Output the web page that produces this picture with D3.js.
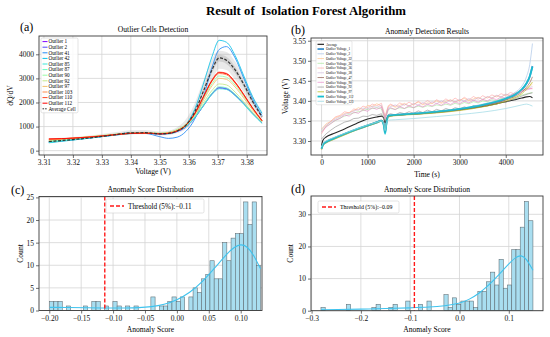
<!DOCTYPE html>
<html>
<head>
<meta charset="utf-8">
<script src="https://cdn.jsdelivr.net/npm/d3@7"></script>
<style>
  body { margin: 0; background: #fff; }
  svg { display: block; font-family: "Liberation Serif", "Times New Roman", serif; }
</style>
</head>
<body>
<svg id="fig" width="550" height="337"></svg>
<script>
// ---------------- data: (a) dQ/dV curves ----------------
const voltage = [3.3117, 3.316, 3.320, 3.325, 3.330, 3.335, 3.340, 3.345, 3.350, 3.353, 3.356,
                 3.359, 3.362, 3.365, 3.368, 3.3705, 3.373, 3.376, 3.379, 3.382, 3.3853];
const avgCell  = [380, 420, 460, 520, 590, 670, 740, 745, 700, 720, 820, 1050, 1600, 2450, 3350, 3850, 3750, 3350, 2750, 2050, 1400];
const bandLow  = [300, 360, 420, 490, 560, 630, 670, 680, 640, 650, 730, 900, 1350, 2050, 2900, 3400, 3350, 2950, 2400, 1800, 1250];
const bandHigh = [520, 540, 570, 620, 690, 770, 850, 860, 800, 830, 970, 1300, 1950, 2900, 3800, 4150, 4100, 3700, 3050, 2300, 1650];
const coreLow  = [350, 400, 445, 505, 575, 650, 710, 715, 675, 695, 790, 1000, 1520, 2330, 3220, 3700, 3600, 3200, 2620, 1960, 1340];
const coreHigh = [420, 455, 495, 555, 625, 700, 780, 785, 740, 760, 870, 1130, 1700, 2600, 3520, 3980, 3900, 3480, 2860, 2130, 1470];

const outlierNames = ["Outlier 1", "Outlier 2", "Outlier 41", "Outlier 42", "Outlier 85", "Outlier 87",
                      "Outlier 90", "Outlier 92", "Outlier 97", "Outlier 103", "Outlier 110", "Outlier 112"];
const outlierColors = ["#8000ff", "#5148fc", "#238af5", "#0cc1e8", "#3ae8d7", "#68fcc1",
                       "#97fca7", "#c5e88a", "#f3c16a", "#ff8a48", "#ff4824", "#ff0000"];
const outlierCurves = [
  [360, 410, 460, 520, 590, 660, 720, 730, 700, 720, 800, 980, 1350, 1850, 2350, 2600, 2560, 2300, 1950, 1550, 1150],
  [350, 405, 455, 515, 585, 655, 715, 725, 695, 715, 795, 990, 1370, 1870, 2370, 2620, 2580, 2320, 1960, 1560, 1160],
  [380, 430, 470, 530, 600, 680, 740, 720, 580, 510, 560, 800, 1300, 2200, 3450, 4200, 4320, 3850, 3000, 2150, 1450],
  [330, 390, 440, 510, 590, 670, 730, 735, 690, 700, 800, 1080, 1700, 2750, 3900, 4580, 4500, 3950, 3100, 2250, 1550],
  [340, 400, 450, 510, 580, 650, 710, 720, 700, 730, 810, 990, 1360, 1850, 2330, 2570, 2540, 2280, 1920, 1520, 1130],
  [370, 430, 480, 540, 600, 660, 710, 720, 710, 740, 830, 1010, 1390, 1890, 2390, 2650, 2610, 2340, 1970, 1560, 1170],
  [400, 450, 500, 560, 620, 680, 720, 730, 720, 760, 880, 1100, 1520, 2150, 2780, 3100, 3050, 2720, 2250, 1730, 1250],
  [420, 470, 520, 575, 630, 690, 730, 735, 720, 755, 860, 1050, 1440, 1980, 2500, 2770, 2730, 2430, 2030, 1600, 1190],
  [440, 480, 520, 570, 620, 680, 730, 735, 715, 750, 860, 1080, 1490, 2090, 2690, 3000, 2960, 2640, 2180, 1690, 1220],
  [460, 490, 520, 560, 610, 670, 720, 730, 710, 730, 830, 1070, 1520, 2200, 2880, 3200, 3150, 2800, 2300, 1760, 1240],
  [480, 495, 520, 560, 610, 670, 720, 730, 700, 720, 820, 1060, 1530, 2230, 2930, 3260, 3210, 2850, 2330, 1780, 1250],
  [490, 500, 520, 555, 605, 665, 715, 725, 695, 715, 815, 1050, 1520, 2220, 2910, 3240, 3190, 2830, 2320, 1770, 1240]
];

// ---------------- data: (b) voltage vs time ----------------
const timeSmooth = [0, 30, 100, 250, 500, 750, 1000, 1200, 1300, 1350, 1380, 1410, 1450, 1600, 2000,
                    2500, 3000, 3500, 4000, 4200, 4350, 4450, 4520, 4580];
const timeNoisy = [0, 100, 200, 300, 400, 500, 600, 700, 800, 900, 1000, 1100, 1200, 1300, 1380, 1450,
                   1500, 1600, 1700, 1800, 1900, 2000, 2100, 2200, 2300, 2400, 2500, 2600, 2700, 2800, 2900,
                   3000, 3100, 3200, 3300, 3400, 3500, 3600, 3700, 3800, 3900, 4000, 4100, 4200, 4300, 4400,
                   4500, 4580];

const vAverage = [3.288, 3.302, 3.310, 3.318, 3.330, 3.343, 3.355, 3.360, 3.362, 3.358, 3.345, 3.355, 3.362, 3.364, 3.367, 3.372, 3.378, 3.386, 3.398, 3.403, 3.407, 3.410, 3.411, 3.408];
const v1   = [3.280, 3.290, 3.297, 3.305, 3.317, 3.328, 3.338, 3.346, 3.350, 3.342, 3.322, 3.345, 3.363, 3.365, 3.368, 3.372, 3.379, 3.389, 3.405, 3.415, 3.428, 3.443, 3.460, 3.487];
const v2   = [3.282, 3.291, 3.298, 3.306, 3.318, 3.329, 3.339, 3.347, 3.351, 3.343, 3.324, 3.346, 3.364, 3.366, 3.369, 3.374, 3.381, 3.392, 3.409, 3.421, 3.437, 3.460, 3.490, 3.543];
const v47  = [3.283, 3.292, 3.299, 3.307, 3.318, 3.329, 3.340, 3.348, 3.352, 3.345, 3.328, 3.347, 3.362, 3.364, 3.367, 3.371, 3.377, 3.387, 3.402, 3.411, 3.422, 3.434, 3.445, 3.460];
const v97  = [3.278, 3.288, 3.295, 3.303, 3.315, 3.327, 3.337, 3.345, 3.349, 3.341, 3.323, 3.344, 3.360, 3.363, 3.366, 3.370, 3.376, 3.385, 3.399, 3.408, 3.418, 3.429, 3.438, 3.447];
const v112 = [3.281, 3.291, 3.298, 3.306, 3.318, 3.329, 3.339, 3.347, 3.351, 3.340, 3.318, 3.344, 3.363, 3.365, 3.368, 3.373, 3.380, 3.390, 3.406, 3.416, 3.429, 3.444, 3.461, 3.485];
const v123 = [3.285, 3.294, 3.300, 3.308, 3.319, 3.330, 3.340, 3.347, 3.350, 3.343, 3.326, 3.345, 3.352, 3.353, 3.356, 3.361, 3.366, 3.372, 3.381, 3.386, 3.390, 3.392, 3.390, 3.387];

const v22 = [3.330, 3.343, 3.349, 3.358, 3.362, 3.369, 3.371, 3.376, 3.383, 3.378, 3.389, 3.386, 3.393, 3.387, 3.360, 3.386,
             3.390, 3.384, 3.389, 3.394, 3.387, 3.392, 3.397, 3.390, 3.395, 3.393, 3.400, 3.394, 3.399, 3.403, 3.397,
             3.402, 3.406, 3.400, 3.405, 3.409, 3.403, 3.410, 3.407, 3.413, 3.409, 3.416, 3.412, 3.418, 3.422, 3.428, 3.434, 3.442];
const v26 = [3.325, 3.336, 3.344, 3.351, 3.357, 3.362, 3.366, 3.370, 3.373, 3.376, 3.379, 3.381, 3.383, 3.380, 3.352, 3.378,
             3.381, 3.379, 3.383, 3.381, 3.385, 3.383, 3.387, 3.384, 3.388, 3.386, 3.390, 3.388, 3.392, 3.389, 3.394,
             3.391, 3.396, 3.393, 3.398, 3.395, 3.400, 3.398, 3.403, 3.400, 3.406, 3.403, 3.409, 3.407, 3.413, 3.416, 3.419, 3.421];
const v36 = [3.318, 3.338, 3.349, 3.360, 3.364, 3.373, 3.370, 3.380, 3.377, 3.387, 3.383, 3.392, 3.388, 3.394, 3.362, 3.388,
             3.392, 3.386, 3.395, 3.389, 3.397, 3.390, 3.399, 3.392, 3.401, 3.394, 3.403, 3.396, 3.405, 3.398, 3.407,
             3.400, 3.409, 3.402, 3.411, 3.404, 3.413, 3.407, 3.415, 3.410, 3.418, 3.413, 3.421, 3.417, 3.424, 3.428, 3.431, 3.430];
const v38 = [3.328, 3.340, 3.347, 3.355, 3.360, 3.367, 3.369, 3.375, 3.378, 3.382, 3.380, 3.387, 3.384, 3.389, 3.358, 3.383,
             3.386, 3.390, 3.385, 3.392, 3.387, 3.394, 3.389, 3.396, 3.391, 3.398, 3.393, 3.400, 3.395, 3.402, 3.397,
             3.404, 3.399, 3.406, 3.401, 3.408, 3.404, 3.411, 3.407, 3.414, 3.410, 3.417, 3.414, 3.420, 3.424, 3.428, 3.432, 3.436];
const v90 = [3.322, 3.335, 3.343, 3.352, 3.356, 3.365, 3.362, 3.372, 3.369, 3.378, 3.374, 3.383, 3.379, 3.385, 3.355, 3.380,
             3.383, 3.378, 3.386, 3.381, 3.388, 3.383, 3.390, 3.385, 3.392, 3.387, 3.394, 3.389, 3.396, 3.391, 3.398,
             3.393, 3.400, 3.395, 3.402, 3.397, 3.404, 3.400, 3.407, 3.403, 3.410, 3.406, 3.413, 3.417, 3.421, 3.425, 3.429, 3.432];
const v92 = [3.305, 3.318, 3.327, 3.335, 3.341, 3.347, 3.350, 3.356, 3.357, 3.362, 3.361, 3.366, 3.364, 3.368, 3.348, 3.366,
             3.368, 3.365, 3.371, 3.368, 3.373, 3.369, 3.375, 3.371, 3.377, 3.373, 3.379, 3.375, 3.381, 3.377, 3.383,
             3.380, 3.385, 3.382, 3.388, 3.385, 3.391, 3.388, 3.394, 3.391, 3.398, 3.396, 3.402, 3.405, 3.410, 3.414, 3.418, 3.420];

// legend order of panel (b)
const voltSeries = [
  { name: "Average",             t: timeSmooth, v: vAverage, color: "#111111", w: 1.1 },
  { name: "Outlier Voltage_1",   t: timeSmooth, v: v1,       color: "#3a8fcb", w: 1.8 },
  { name: "Outlier Voltage_2",   t: timeSmooth, v: v2,       color: "#aec7e8", w: 0.8 },
  { name: "Outlier Voltage_22",  t: timeNoisy,  v: v22,      color: "#ffbb78", w: 0.6 },
  { name: "Outlier Voltage_26",  t: timeNoisy,  v: v26,      color: "#98df8a", w: 0.6 },
  { name: "Outlier Voltage_36",  t: timeNoisy,  v: v36,      color: "#ff9896", w: 0.6 },
  { name: "Outlier Voltage_38",  t: timeNoisy,  v: v38,      color: "#c5b0d5", w: 0.6 },
  { name: "Outlier Voltage_47",  t: timeSmooth, v: v47,      color: "#8c564b", w: 0.7 },
  { name: "Outlier Voltage_90",  t: timeNoisy,  v: v90,      color: "#e377c2", w: 0.6 },
  { name: "Outlier Voltage_92",  t: timeNoisy,  v: v92,      color: "#7f7f7f", w: 0.6 },
  { name: "Outlier Voltage_97",  t: timeSmooth, v: v97,      color: "#bcbd22", w: 0.8 },
  { name: "Outlier Voltage_112", t: timeSmooth, v: v112,     color: "#17becf", w: 1.8 },
  { name: "Outlier Voltage_123", t: timeSmooth, v: v123,     color: "#9edae5", w: 0.8 }
];

// ---------------- data: (c) and (d) histograms ----------------
const binStartC = -0.1995, binWidthC = 0.006614;
const countsC = [2, 2, 2, 0, 1, 0, 0, 0, 1, 0, 2, 2, 0, 1, 0, 2, 1, 0, 1, 0, 1, 0, 0, 0, 3,
                 0, 1, 1, 2, 3, 2, 3, 0, 3, 5, 4, 7, 8, 11, 7, 7, 15, 11, 16, 17, 17, 24, 19, 24, 10];
const kdeXC = [-0.1995, -0.17, -0.14, -0.11, -0.08, -0.06, -0.04, -0.02, 0.00, 0.02, 0.04, 0.06, 0.08, 0.09, 0.10, 0.11, 0.12, 0.1311];
const kdeYC = [0.7, 0.65, 0.6, 0.55, 0.55, 0.6, 0.8, 1.3, 2.3, 3.9, 6.3, 9.5, 12.8, 14.0, 14.7, 14.2, 12.4, 9.2];
const thresholdC = -0.113;

const binStartD = -0.281, binWidthD = 0.0086;
const countsD = [1, 0, 0, 0, 0, 0, 2, 0, 0, 0, 0, 0, 1, 2, 0, 0, 1, 2, 0, 0, 3, 0, 0, 2, 0,
                 3, 0, 0, 0, 5, 1, 4, 2, 3, 3, 3, 1, 6, 6, 9, 12, 8, 16, 7, 8, 19, 19, 26, 34, 28];
const kdeXD = [-0.281, -0.25, -0.20, -0.15, -0.10, -0.06, -0.03, 0.00, 0.02, 0.04, 0.06, 0.08, 0.10, 0.115, 0.125, 0.135, 0.149];
const kdeYD = [0.3, 0.35, 0.5, 0.65, 0.9, 1.1, 1.5, 2.2, 3.5, 5.4, 8.0, 11.2, 14.6, 16.8, 17.3, 16.4, 12.6];
const thresholdD = -0.0915;

// ---------------- drawing ----------------
const svg = d3.select("#fig");
const TICK_FS = 7.5;
let clipId = 0;

svg.append("text")
  .attr("x", 306).attr("y", 14.5)
  .attr("text-anchor", "middle")
  .style("white-space", "pre")
  .style("font-size", "12.8px").style("font-weight", "bold")
  .text("Result of  Isolation Forest Algorithm");

// builds one axes box with grid, ticks and labels
function makePanel(o) {
  const g = svg.append("g");
  const x = d3.scaleLinear().domain(o.xDomain).range([o.L, o.R]);
  const y = d3.scaleLinear().domain(o.yDomain).range([o.B, o.T]);

  // grid
  g.append("g").selectAll("line").data(o.xTicks).join("line")
    .attr("x1", d => x(d)).attr("x2", d => x(d)).attr("y1", o.T).attr("y2", o.B)
    .attr("stroke", "#d4d4d4").attr("stroke-width", 0.8);
  g.append("g").selectAll("line").data(o.yTicks).join("line")
    .attr("y1", d => y(d)).attr("y2", d => y(d)).attr("x1", o.L).attr("x2", o.R)
    .attr("stroke", "#d4d4d4").attr("stroke-width", 0.8);

  const id = "clip" + (clipId++);
  svg.append("clipPath").attr("id", id).append("rect")
    .attr("x", o.L).attr("y", o.T).attr("width", o.R - o.L).attr("height", o.B - o.T);
  const plot = g.append("g").attr("clip-path", `url(#${id})`);

  const front = svg.append("g");
  const ax = front.append("g").attr("transform", `translate(0,${o.B})`)
    .call(d3.axisBottom(x).tickValues(o.xTicks).tickFormat(o.xFmt).tickSizeInner(3).tickSizeOuter(0).tickPadding(2));
  const ay = front.append("g").attr("transform", `translate(${o.L},0)`)
    .call(d3.axisLeft(y).tickValues(o.yTicks).tickFormat(o.yFmt).tickSizeInner(3).tickSizeOuter(0).tickPadding(2));
  [ax, ay].forEach(a => {
    a.select(".domain").remove();
    a.selectAll("line").attr("stroke", "#333").attr("stroke-width", 0.7);
    a.selectAll("text").style("font-size", TICK_FS + "px").attr("fill", "#111")
      .style("font-family", "Liberation Serif, serif");
  });
  front.append("rect").attr("x", o.L).attr("y", o.T).attr("width", o.R - o.L).attr("height", o.B - o.T)
    .attr("fill", "none").attr("stroke", "#3a3a3a").attr("stroke-width", 0.9);

  // titles
  svg.append("text").attr("x", (o.L + o.R) / 2).attr("y", o.titleY).attr("text-anchor", "middle")
    .style("font-size", "7.6px").text(o.title);
  svg.append("text").attr("x", o.tagX).attr("y", o.tagY).style("font-size", "12px").text(o.tag);
  svg.append("text").attr("x", (o.L + o.R) / 2).attr("y", o.xLabelY).attr("text-anchor", "middle")
    .style("font-size", "7.6px").text(o.xLabel);
  svg.append("text").attr("transform", `translate(${o.yLabelX},${(o.T + o.B) / 2}) rotate(-90)`)
    .attr("text-anchor", "middle").style("font-size", "7.6px").text(o.yLabel);

  return { plot, front, x, y };
}

// ---------- (a) ----------
const pa = makePanel({
  L: 39, R: 267, T: 36, B: 155,
  xDomain: [3.3083, 3.3870], yDomain: [-180, 4760],
  xTicks: [3.31, 3.32, 3.33, 3.34, 3.35, 3.36, 3.37, 3.38], yTicks: [0, 1000, 2000, 3000, 4000],
  xFmt: d3.format(".2f"), yFmt: d3.format("d"),
  title: "Outlier Cells Detection", titleY: 31.5, tag: "(a)", tagX: 20, tagY: 31,
  xLabel: "Voltage (V)", xLabelY: 174, yLabel: "dQ/dV", yLabelX: 13
});
const areaA = (lo, hi) => d3.area().curve(d3.curveMonotoneX)
  .x((d, i) => pa.x(voltage[i])).y0((d, i) => pa.y(lo[i])).y1((d, i) => pa.y(hi[i]));
pa.plot.append("path").attr("d", areaA(bandLow, bandHigh)(voltage)).attr("fill", "#9a9a9a").attr("opacity", 0.22);
pa.plot.append("path").attr("d", areaA(coreLow, coreHigh)(voltage)).attr("fill", "#8a8a8a").attr("opacity", 0.25);
const lineA = d3.line().curve(d3.curveMonotoneX).x((d, i) => pa.x(voltage[i])).y(d => pa.y(d));
outlierCurves.forEach((c, k) => {
  pa.plot.append("path").attr("d", lineA(c)).attr("fill", "none")
    .attr("stroke", outlierColors[k]).attr("stroke-width", 1).attr("opacity", 0.85);
});
pa.plot.append("path").attr("d", lineA(avgCell)).attr("fill", "none")
  .attr("stroke", "#333").attr("stroke-width", 1.2).attr("stroke-dasharray", "3,1.6");

// legend (a)
const legA = pa.front.append("g");
const rowA = 5.6, legAx = 41, legAy = 38;
legA.append("rect").attr("x", legAx).attr("y", legAy).attr("width", 37).attr("height", 13 * rowA + 2)
  .attr("rx", 1.5).attr("fill", "#fff").attr("fill-opacity", 0.85).attr("stroke", "#d0d0d0").attr("stroke-width", 0.6);
outlierNames.concat(["Average Cell"]).forEach((n, k) => {
  const yy = legAy + 3.6 + k * rowA;
  const isAvg = k === outlierNames.length;
  legA.append("line").attr("x1", legAx + 1.5).attr("x2", legAx + 6.5).attr("y1", yy).attr("y2", yy)
    .attr("stroke", isAvg ? "#333" : outlierColors[k]).attr("stroke-width", 1)
    .attr("stroke-dasharray", isAvg ? "1.6,1" : null);
  legA.append("text").attr("x", legAx + 7.5).attr("y", yy + 1.8).style("font-size", "5.2px").text(n);
});

// ---------- (b) ----------
const pb = makePanel({
  L: 311, R: 543, T: 38, B: 155,
  xDomain: [-229, 4809], yDomain: [3.2651, 3.5568],
  xTicks: [0, 1000, 2000, 3000, 4000], yTicks: [3.30, 3.35, 3.40, 3.45, 3.50, 3.55],
  xFmt: d3.format("d"), yFmt: d3.format(".2f"),
  title: "Anomaly Detection Results", titleY: 34, tag: "(b)", tagX: 291, tagY: 34,
  xLabel: "Time (s)", xLabelY: 177, yLabel: "Voltage (V)", yLabelX: 288
});
voltSeries.forEach(s => {
  const ln = d3.line().curve(s.t === timeSmooth ? d3.curveMonotoneX : d3.curveLinear)
    .x((d, i) => pb.x(s.t[i])).y(d => pb.y(d));
  pb.plot.append("path").attr("d", ln(s.v)).attr("fill", "none")
    .attr("stroke", s.color).attr("stroke-width", s.w).attr("opacity", 0.9);
});
const legB = pb.front.append("g");
const rowB = 4.75, legBx = 316, legBy = 41;
legB.append("rect").attr("x", legBx).attr("y", legBy).attr("width", 36).attr("height", 13 * rowB + 2)
  .attr("rx", 1.2).attr("fill", "#fff").attr("fill-opacity", 0.85).attr("stroke", "#d0d0d0").attr("stroke-width", 0.5);
voltSeries.forEach((s, k) => {
  const yy = legBy + 3.3 + k * rowB;
  legB.append("line").attr("x1", legBx + 1.5).attr("x2", legBx + 8).attr("y1", yy).attr("y2", yy)
    .attr("stroke", s.color).attr("stroke-width", s.w);
  legB.append("text").attr("x", legBx + 10).attr("y", yy + 1.2).style("font-size", "3.4px").text(s.name);
});

// ---------- (c), (d) ----------
function histPanel(o, start, width, counts, kx, ky, thr, legendFs, legW) {
  const p = makePanel(o);
  const bins = counts.map((c, i) => ({ x0: start + i * width, x1: start + (i + 1) * width, c }));
  p.plot.selectAll("rect.bar").data(bins.filter(b => b.c > 0)).join("rect")
    .attr("x", b => p.x(b.x0)).attr("width", b => p.x(b.x1) - p.x(b.x0))
    .attr("y", b => p.y(b.c)).attr("height", b => p.y(0) - p.y(b.c))
    .attr("fill", "#a9def0").attr("stroke", "#5c6a70").attr("stroke-width", 0.55);
  const kde = d3.line().curve(d3.curveBasis).x((d, i) => p.x(kx[i])).y(d => p.y(d));
  p.plot.append("path").attr("d", kde(ky)).attr("fill", "none").attr("stroke", "#3fc3ee").attr("stroke-width", 1.1);
  p.plot.append("line").attr("x1", p.x(thr)).attr("x2", p.x(thr)).attr("y1", o.T).attr("y2", o.B)
    .attr("stroke", "#ff1a1a").attr("stroke-width", 1.4).attr("stroke-dasharray", "4,2");
  const lg = p.front.append("g");
  lg.append("rect").attr("x", o.legX).attr("y", o.legY).attr("width", legW).attr("height", o.legH)
    .attr("rx", 1.5).attr("fill", "#fff").attr("fill-opacity", 0.9).attr("stroke", "#d0d0d0").attr("stroke-width", 0.6);
  const ly = o.legY + o.legH / 2;
  lg.append("line").attr("x1", o.legX + 4).attr("x2", o.legX + 18).attr("y1", ly).attr("y2", ly)
    .attr("stroke", "#ff1a1a").attr("stroke-width", 1.4).attr("stroke-dasharray", "4,2");
  lg.append("text").attr("x", o.legX + 22).attr("y", ly + legendFs * 0.35).style("font-size", legendFs + "px")
    .text("Threshold (5%):" + d3.format(".2f")(thr));
  return p;
}

histPanel({
  L: 39, R: 262, T: 196.5, B: 310.5,
  xDomain: [-0.2161, 0.1334], yDomain: [0, 25.2],
  xTicks: [-0.20, -0.15, -0.10, -0.05, 0.00, 0.05, 0.10], yTicks: [0, 5, 10, 15, 20, 25],
  xFmt: d3.format(".2f"), yFmt: d3.format("d"),
  title: "Anomaly Score Distribution", titleY: 192, tag: "(c)", tagX: 11, tagY: 194,
  xLabel: "Anomaly Score", xLabelY: 332, yLabel: "Count", yLabelX: 23,
  legX: 106, legY: 199, legH: 14
}, binStartC, binWidthC, countsC, kdeXC, kdeYC, thresholdC, 7.2, 98);

histPanel({
  L: 311, R: 543, T: 196, B: 310.7,
  xDomain: [-0.3012, 0.1694], yDomain: [0, 35.7],
  xTicks: [-0.3, -0.2, -0.1, 0.0, 0.1], yTicks: [0, 10, 20, 30],
  xFmt: d3.format(".1f"), yFmt: d3.format("d"),
  title: "Anomaly Score Distribution", titleY: 191.5, tag: "(d)", tagX: 291, tagY: 193,
  xLabel: "Anomaly Score", xLabelY: 332, yLabel: "Count", yLabelX: 293,
  legX: 318, legY: 201, legH: 12
}, binStartD, binWidthD, countsD, kdeXD, kdeYD, thresholdD, 5.9, 81);
</script>
</body>
</html>
